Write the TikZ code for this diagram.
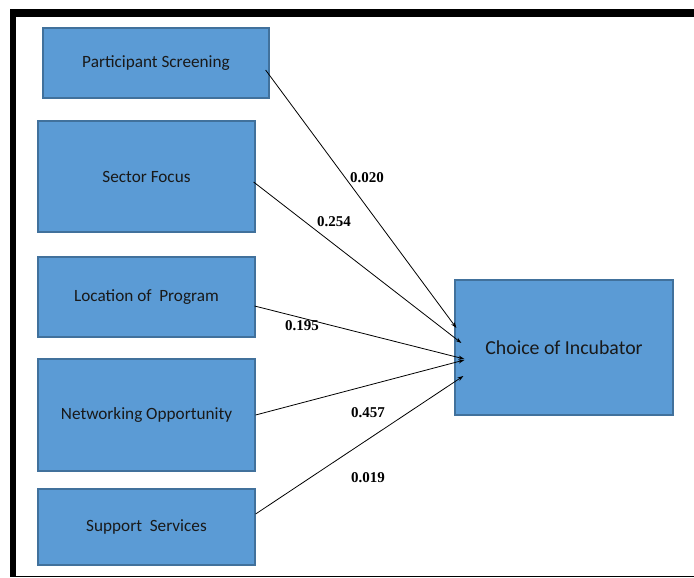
\documentclass[tikz,border=0pt]{standalone}
\usepackage{fontspec}
\setmainfont{Carlito}
\newfontfamily\numfont{Liberation Serif}
\usetikzlibrary{arrows.meta,calc}
\definecolor{boxfill}{HTML}{5B9BD5}
\definecolor{boxline}{HTML}{41719C}
\tikzset{
  varbox/.style={draw=boxline, fill=boxfill, line width=1.2pt, inner sep=0pt, align=center, text=black!90, font=\fontsize{17.2}{20}\selectfont},
  path/.style={line width=0.8pt, -{Stealth[length=6pt,width=4pt]}},
  coef/.style={font=\numfont\bfseries\fontsize{15}{17}\selectfont, inner sep=0pt}
}
\begin{document}
\begin{tikzpicture}[x=1pt,y=-1pt]
\useasboundingbox (0,0) rectangle (694,578);
% frame
\fill (10,9) rectangle (694,17);
\fill (10,9) rectangle (16,577);
\draw[line width=1.3pt] (10,576.5) -- (694,576.5);
% nodes
\node[varbox, minimum width=226pt, minimum height=70pt] (ps) at (156,63) {Participant Screening};
\node[varbox, minimum width=217pt, minimum height=111pt] (sf) at (146.5,176.5) {Sector Focus};
\node[varbox, minimum width=217pt, minimum height=80pt] (lp) at (146.5,297) {Location of\ \ Program};
\node[varbox, minimum width=217pt, minimum height=112pt] (no) at (146.5,415) {Networking Opportunity};
\node[varbox, minimum width=217pt, minimum height=76pt] (ss) at (146.5,527) {Support\ \ Services};
\node[varbox, minimum width=218pt, minimum height=135pt, font=\fontsize{19.8}{22}\selectfont] (inc) at (564,347.5) {Choice of Incubator};
% paths
\draw[path] ($(ps.east)+(-4,7)$) -- ($(inc.west)+(2,-19.5)$);
\draw[path] ($(sf.east)+(-2,5.5)$) -- ($(inc.west)+(7,-4.5)$);
\draw[path] ($(lp.east)+(-1,9)$) -- ($(inc.west)+(10,11.5)$);
\draw[path] ($(no.east)+(0,0)$) -- ($(inc.west)+(10,12.5)$);
\draw[path] ($(ss.east)+(0,-13)$) -- ($(inc.west)+(9,28.5)$);
% coefficients
\node[coef] (c1) at (367,178) {0.020};
\node[coef] (c2) at (334,222) {0.254};
\node[coef] (c3) at (302,326) {0.195};
\node[coef] (c4) at (368,413) {0.457};
\node[coef] (c5) at (368,478) {0.019};
\end{tikzpicture}
\end{document}
